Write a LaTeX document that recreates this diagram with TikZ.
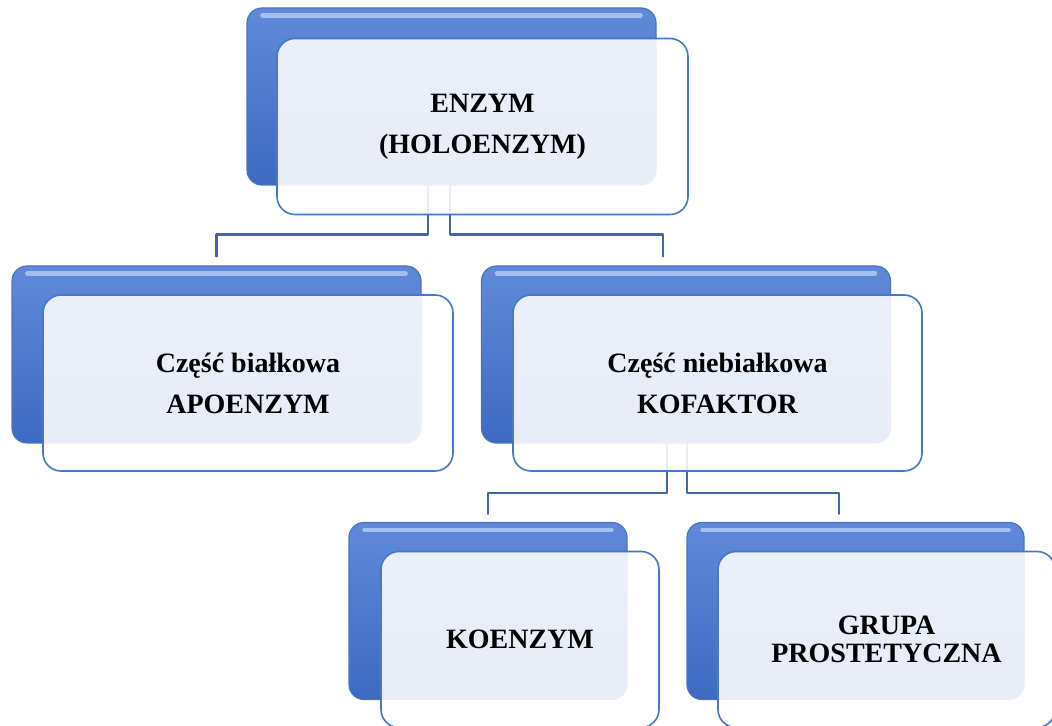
\documentclass[tikz,border=0pt]{standalone}
\usepackage{fontspec}
\setmainfont{Liberation Serif}
\usetikzlibrary{positioning}
\definecolor{backtop}{HTML}{608AD8}
\definecolor{backbot}{HTML}{3D69C2}
\definecolor{backline}{HTML}{4A74C2}
\definecolor{frontline}{HTML}{4A76C6}
\definecolor{linkblue}{HTML}{3F66B2}
\definecolor{glossblue}{HTML}{A4C0EE}

\begin{document}
\begin{tikzpicture}[x=0.5pt,y=-0.5pt,line cap=round,line join=round,
  font=\fontsize{14}{20.5}\selectfont\bfseries,
  backbox/.style={rectangle,rounded corners=7.5pt,draw=backline,line width=0.6pt,top color=backtop,bottom color=backbot,minimum height=88.5pt,inner sep=0pt},
  frontbox/.style={rectangle,rounded corners=9pt,draw=frontline,line width=0.8pt,fill=white,fill opacity=0.88,text opacity=1,minimum height=88pt,inner sep=0pt,align=center},
  link/.style={draw=linkblue,line width=1.1pt},
  gloss/.style={draw=glossblue,line width=2.2pt}]
\clip (0,0) rectangle (1052,726);
% back boxes
\node[backbox,minimum width=204.5pt] (enzBack) at (451.5,96.5) {};
\node[backbox,minimum width=204.5pt] (apoBack) at (216.5,354.5) {};
\node[backbox,minimum width=204.5pt] (kofBack) at (686,354.5) {};
\node[backbox,minimum width=139pt] (koBack) at (488,611) {};
\node[backbox,minimum width=168.5pt] (grBack) at (855.5,611) {};
\draw[gloss] ([xshift=8pt,yshift=-4pt]enzBack.north west) -- ([xshift=-8pt,yshift=-4pt]enzBack.north east);
\draw[gloss] ([xshift=8pt,yshift=-4pt]apoBack.north west) -- ([xshift=-8pt,yshift=-4pt]apoBack.north east);
\draw[gloss] ([xshift=8pt,yshift=-4pt]kofBack.north west) -- ([xshift=-8pt,yshift=-4pt]kofBack.north east);
\draw[gloss] ([xshift=8pt,yshift=-4pt]koBack.north west) -- ([xshift=-8pt,yshift=-4pt]koBack.north east);
\draw[gloss] ([xshift=8pt,yshift=-4pt]grBack.north west) -- ([xshift=-8pt,yshift=-4pt]grBack.north east);
% connectors
\draw[link] ([xshift=-11.75pt]enzBack.south) -- ++(0,49) -| ([yshift=4.5pt]apoBack.north);
\draw[link] ([xshift=-0.75pt]enzBack.south) -- ++(0,49) -| ([xshift=-11.5pt,yshift=4.5pt]kofBack.north);
\draw[link] ([xshift=-9.5pt]kofBack.south) -- ++(0,49) -| ([yshift=4pt]koBack.north);
\draw[link] ([xshift=0.5pt]kofBack.south) -- ++(0,49) -| ([xshift=-8.25pt,yshift=4pt]grBack.north);
% front boxes
\node[frontbox,minimum width=205.5pt] (enz) at ([xshift=15.5pt,yshift=-15pt]enzBack.center) {ENZYM\\(HOLOENZYM)};
\node[frontbox,minimum width=205pt] (apo) at ([xshift=15.75pt,yshift=-14.25pt]apoBack.center) {Część białkowa\\APOENZYM};
\node[frontbox,minimum width=204.5pt] (kof) at ([xshift=15.75pt,yshift=-14.25pt]kofBack.center) {Część niebiałkowa\\KOFAKTOR};
\node[frontbox,minimum width=139pt] (ko) at ([xshift=16pt,yshift=-14.25pt]koBack.center) {KOENZYM};
\node[frontbox,minimum width=168.5pt,font=\fontsize{14}{14}\selectfont\bfseries] (gr) at ([xshift=15.5pt,yshift=-14.25pt]grBack.center) {GRUPA\\PROSTETYCZNA};
\end{tikzpicture}
\end{document}
